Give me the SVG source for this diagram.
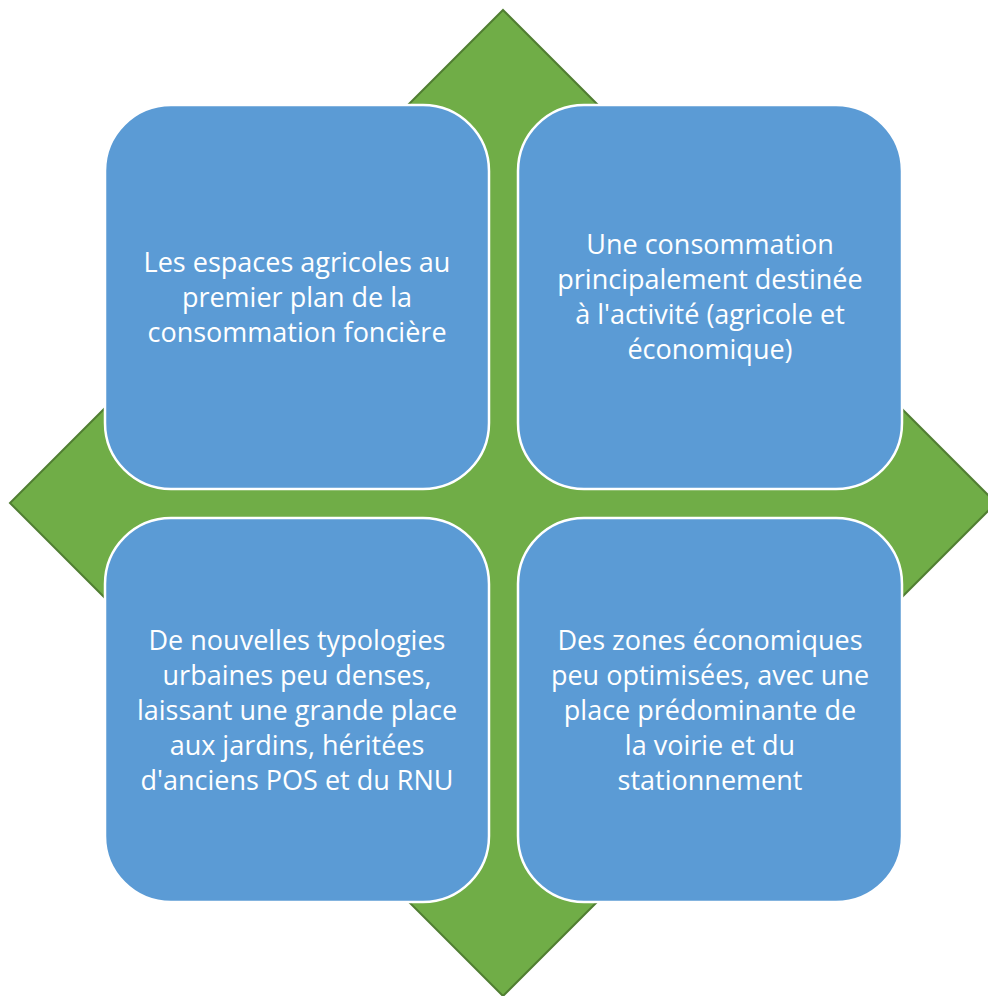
<svg xmlns="http://www.w3.org/2000/svg" width="988" height="996" viewBox="0 0 988 996">
<style>
.box{fill:#5B9BD5;stroke:#FFFFFF;stroke-width:2.5}
.t{font-family:"Open Sans","Noto Sans","Liberation Sans",sans-serif;font-size:27px;fill:#FFFFFF;text-anchor:middle;dominant-baseline:central}
</style>
<rect width="988" height="996" fill="#FFFFFF"/>
<g id="diamond">
<polygon points="503,10 996,503 503,996 10,503" fill="#70AD47" stroke="#507E32" stroke-width="2"/>
</g>
<g id="box-tl">
<rect class="box" x="105" y="105" width="384" height="384" rx="66" ry="66"/>
<text class="t"><tspan x="297" y="261">Les espaces agricoles au</tspan><tspan x="297" y="296">premier plan de la</tspan><tspan x="297" y="331">consommation foncière</tspan></text>
</g>
<g id="box-tr">
<rect class="box" x="518" y="105" width="384" height="384" rx="66" ry="66"/>
<text class="t"><tspan x="710" y="243">Une consommation</tspan><tspan x="710" y="278">principalement destinée</tspan><tspan x="710" y="313">à l'activité (agricole et</tspan><tspan x="710" y="348">économique)</tspan></text>
</g>
<g id="box-bl">
<rect class="box" x="105" y="518" width="384" height="384" rx="66" ry="66"/>
<text class="t"><tspan x="297" y="639">De nouvelles typologies</tspan><tspan x="297" y="674">urbaines peu denses,</tspan><tspan x="297" y="709">laissant une grande place</tspan><tspan x="297" y="744">aux jardins, héritées</tspan><tspan x="297" y="779">d'anciens POS et du RNU</tspan></text>
</g>
<g id="box-br">
<rect class="box" x="518" y="518" width="384" height="384" rx="66" ry="66"/>
<text class="t"><tspan x="710" y="639">Des zones économiques</tspan><tspan x="710" y="674">peu optimisées, avec une</tspan><tspan x="710" y="709">place prédominante de</tspan><tspan x="710" y="744">la voirie et du</tspan><tspan x="710" y="779">stationnement</tspan></text>
</g>
<g id="connectors"></g>
</svg>
